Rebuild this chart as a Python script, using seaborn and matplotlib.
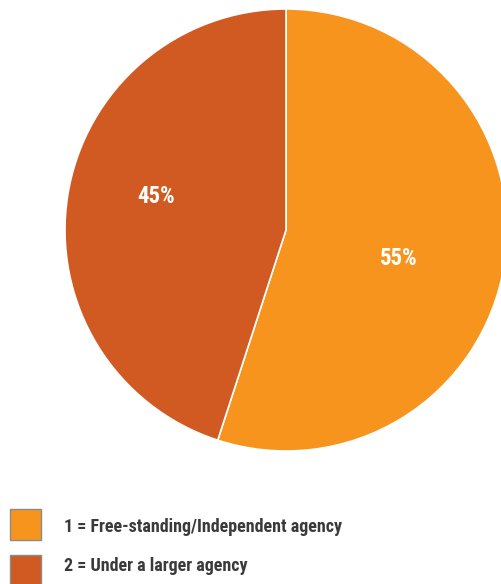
import matplotlib
matplotlib.use("Agg")
import matplotlib.pyplot as plt
from matplotlib.patches import Rectangle
import seaborn as sns

sns.set_theme(style="white")
plt.rcParams["font.family"] = ["Roboto Condensed", "Archivo Narrow", "PT Sans Narrow",
                               "Sofia Sans Condensed", "Liberation Sans", "DejaVu Sans"]

# Agency structure shares
categories = ["1 = Free-standing/Independent agency", "2 = Under a larger agency"]
shares = [55, 45]
colors = ["#F7941E", "#D15A22"]
# label anchor points inside each wedge (data units, pie radius = 1)
label_xy = [(0.509, -0.127), (-0.588, 0.152)]

fig = plt.figure(figsize=(5.01, 5.84), dpi=100)
W, H = 501, 584

# pie axes: centre (286, 230) px, radius 221 px
cx, cy, r = 286, 230, 221
ax = fig.add_axes([(cx - r) / W, (H - cy - r) / H, 2 * r / W, 2 * r / H])
ax.pie(shares, colors=colors, startangle=90, counterclock=False,
       wedgeprops=dict(edgecolor="white", linewidth=1.2))
ax.set_xlim(-1, 1)
ax.set_ylim(-1, 1)
ax.set_aspect("equal")
ax.axis("off")

for v, (x, y) in zip(shares, label_xy):
    ax.text(x, y, f"{v}%", ha="center", va="center", color="white",
            fontsize=16.5, fontweight="bold")

# legend
sq = 31
legend_rows = [(509, 527.5), (555, 566)]
for (top, ty), col, lab in zip(legend_rows, colors, categories):
    fig.add_artist(Rectangle((10 / W, (H - top - sq) / H), sq / W, sq / H,
                             transform=fig.transFigure, facecolor=col,
                             edgecolor="#8a8a8a", linewidth=1.0))
    fig.text(64 / W, (H - ty) / H, lab, ha="left", va="center",
             fontsize=13, fontweight="bold", color="#3a3a3a")

fig.savefig("out.png", dpi=100)
